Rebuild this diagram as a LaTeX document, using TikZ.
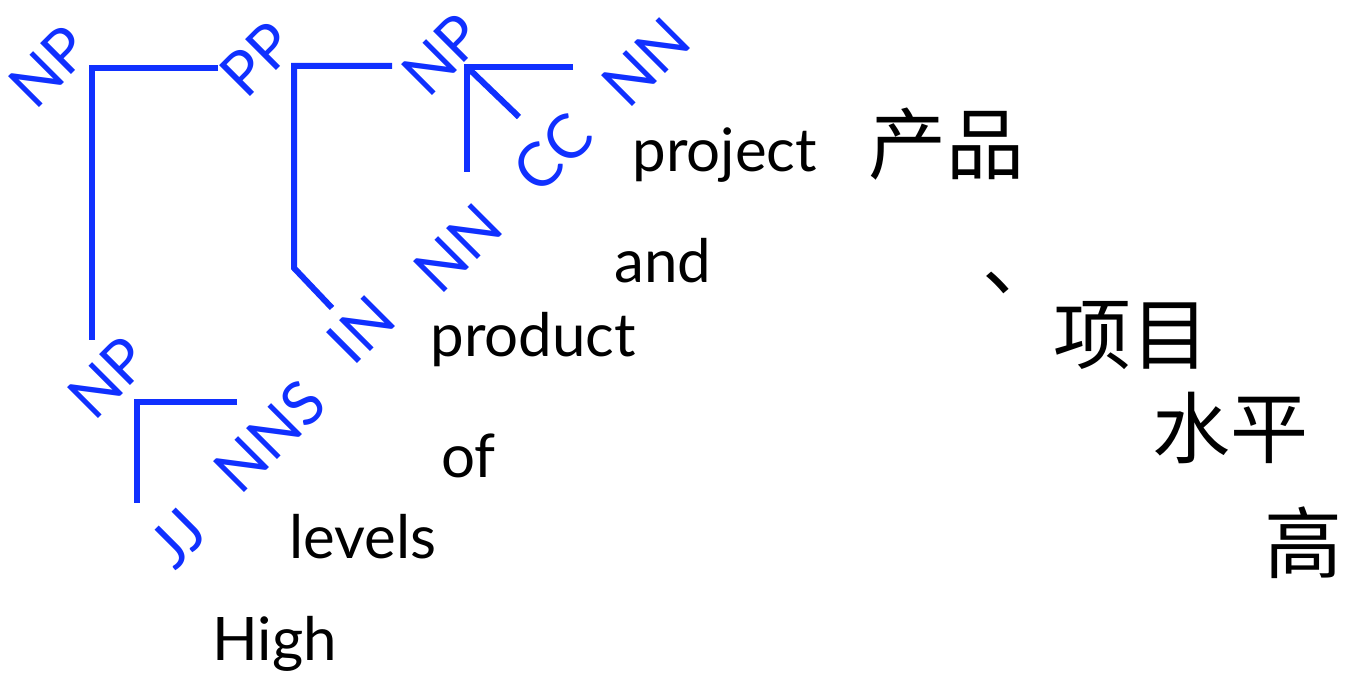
\documentclass[tikz,border=0pt]{standalone}
\usepackage{fontspec}
\setmainfont{Lato}
\newfontfamily\cjk{Noto Sans CJK SC}
\definecolor{tagblue}{RGB}{16,48,255}
\begin{document}
\begin{tikzpicture}[x=0.5pt,y=-0.5pt,
  tag/.style={text=tagblue,font=\fontsize{30.5}{30.5}\selectfont,rotate=45,inner sep=0pt},
  word/.style={font=\fontsize{30}{30}\selectfont,inner sep=0pt},
  zh/.style={font=\cjk\fontsize{39}{39}\selectfont,inner sep=0pt},
  branch/.style={draw=tagblue,line width=3pt}]
\useasboundingbox (0,0) rectangle (1345,674);
% tags
\node[tag] (np1) at (49,67) {NP};
\node[tag] (pp) at (257,59) {PP};
\node[tag] (np2) at (442,55) {NP};
\node[tag] (nn1) at (646,62) {NN};
\node[tag] (cc) at (553,153) {CC};
\node[tag] (nn2) at (458,248) {NN};
\node[tag] (in) at (361,330) {IN};
\node[tag] (np3) at (108,378) {NP};
\node[tag] (nns) at (270,436) {NNS};
\node[tag] (jj) at (178,538) {JJ};
% junctions and ends
\coordinate (j1) at (92,68);
\coordinate (j1r) at (218,68);
\coordinate (j1d) at (92,340);
\coordinate (j2) at (294,66);
\coordinate (j2r) at (392,66);
\coordinate (j2d) at (294,268);
\coordinate (j2e) at (332,308);
\coordinate (j3) at (467,67);
\coordinate (j3r) at (573,67);
\coordinate (j3d) at (467,172);
\coordinate (j3e) at (519,117);
\coordinate (j4) at (137,402);
\coordinate (j4r) at (237,402);
\coordinate (j4d) at (137,503);
\draw[branch] (j1r) -- (j1) -- (j1d);
\draw[branch] (j2r) -- (j2) -- (j2d) -- (j2e);
\draw[branch] (j3r) -- (j3) -- (j3d);
\draw[branch] (j3) -- (j3e);
\draw[branch] (j4r) -- (j4) -- (j4d);
% words
\node[word,anchor=base west] (w1) at (632,172) {project};
\node[word,anchor=base west] (w2) at (614,282) {and};
\node[word,anchor=base west] (w3) at (430,356) {product};
\node[word,anchor=base west] (w4) at (441,477) {of};
\node[word,anchor=base west] (w5) at (289,558) {levels};
\node[word,anchor=base west] (w6) at (212,660) {High};
% chinese
\node[zh] (z1) at (946,144) {产品};
\node[zh] (z2) at (1021,283) {、};
\node[zh] (z3) at (1131,336) {项目};
\node[zh] (z4) at (1230,428) {水平};
\node[zh] (z5) at (1303,543) {高};
\end{tikzpicture}
\end{document}
